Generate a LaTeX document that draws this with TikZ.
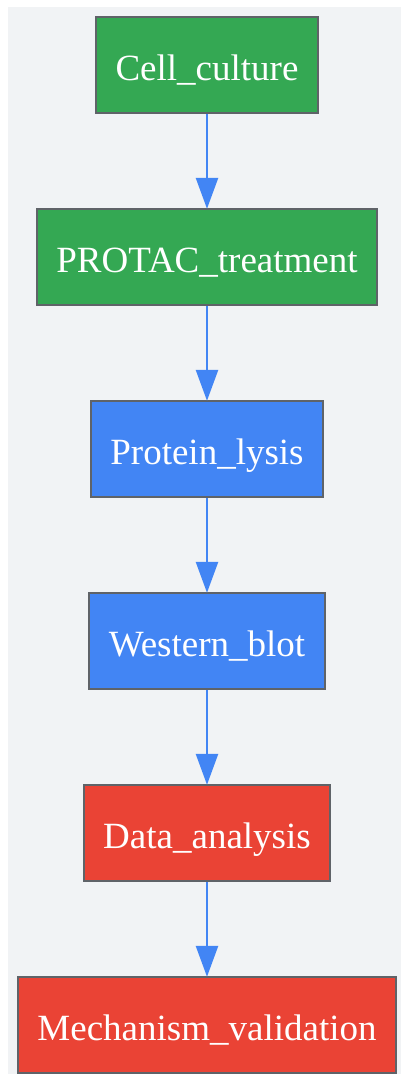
\documentclass[tikz,border=0pt]{standalone}
\usepackage{fontspec}
\setmainfont{Liberation Serif}
\usetikzlibrary{arrows.meta}
\definecolor{bgc}{HTML}{F1F3F5}
\definecolor{gr}{HTML}{34A853}
\definecolor{bl}{HTML}{4285F4}
\definecolor{rd}{HTML}{EA4335}
\definecolor{bd}{HTML}{5F6368}
\begin{document}
\begin{tikzpicture}[x=1pt,y=1pt,
  box/.style={draw=bd, line width=2.4pt, inner sep=0pt, minimum height=96pt, text=white,
    text height=36pt, text depth=6pt,
    font=\fontsize{37}{40}\selectfont, anchor=center},
  conn/.style={draw=bl, line width=2.6pt, -{Triangle[width=22pt,length=31pt]}, shorten >=-1pt}]
\useasboundingbox (0,0) rectangle (401,-1074);
\fill[bgc] (8,-7) rectangle (401,-1074);
\node[box, fill=gr, minimum width=222pt] (n1) at (207,-65) {Cell\_culture};
\node[box, fill=gr, minimum width=340pt] (n2) at (207,-257) {PROTAC\_treatment};
\node[box, fill=bl, minimum width=232pt] (n3) at (207,-449) {Protein\_lysis};
\node[box, fill=bl, minimum width=236pt] (n4) at (207,-641) {Western\_blot};
\node[box, fill=rd, minimum width=246pt] (n5) at (207,-833) {Data\_analysis};
\node[box, fill=rd, minimum width=378pt] (n6) at (207,-1025) {Mechanism\_validation};
\draw[conn] (n1) -- (n2);
\draw[conn] (n2) -- (n3);
\draw[conn] (n3) -- (n4);
\draw[conn] (n4) -- (n5);
\draw[conn] (n5) -- (n6);
\end{tikzpicture}
\end{document}
